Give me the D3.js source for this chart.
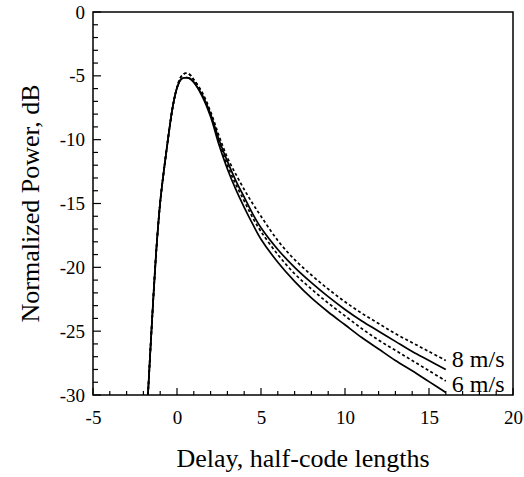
<!DOCTYPE html>
<html>
<head>
<meta charset="utf-8">
<script src="https://cdn.jsdelivr.net/npm/d3@7"></script>
<style>
  body { margin: 0; background: #fff; }
  svg { display: block; }
  text { font-family: "Liberation Serif", "Times New Roman", serif; fill: #000; }
</style>
</head>
<body>
<svg id="chart" width="524" height="477"></svg>
<script>
// ---- data ----
const xTicks = [-5, 0, 5, 10, 15, 20];
const yTicks = [0, -5, -10, -15, -20, -25, -30];
const xTitle = "Delay, half-code lengths";
const yTitle = "Normalized Power, dB";

const delay = [-1.73, -1.5, -1.25, -1.0, -0.75, -0.5, -0.25, 0, 0.25, 0.5, 0.75, 1, 1.5, 2, 2.5, 3, 3.5, 4, 4.5, 5, 6, 7, 8, 9, 10, 11, 12, 13, 14, 15, 16];

// 8 m/s, dotted
const dotted8 = [-30, -24.5, -19.0, -14.9, -12.1, -9.6, -7.4, -5.9, -5.05, -4.8, -4.9, -5.3, -6.3, -7.8, -9.7, -11.4, -12.7, -13.9, -15.0, -16.0, -17.9, -19.4, -20.6, -21.7, -22.7, -23.6, -24.4, -25.2, -25.9, -26.6, -27.3];
// 8 m/s, solid
const solid8 = [-30, -24.5, -19.0, -14.9, -12.1, -9.6, -7.4, -5.95, -5.25, -5.15, -5.2, -5.5, -6.5, -8.0, -10.0, -11.7, -13.2, -14.5, -15.8, -16.9, -18.6, -20.0, -21.2, -22.3, -23.3, -24.2, -25.0, -25.8, -26.6, -27.3, -28.0];
// 6 m/s, dotted
const dotted6 = [-30, -24.5, -19.0, -14.9, -12.1, -9.6, -7.4, -5.9, -5.05, -4.8, -4.9, -5.3, -6.4, -8.0, -10.2, -12.0, -13.5, -14.8, -16.1, -17.2, -19.0, -20.5, -21.7, -22.8, -23.8, -24.8, -25.7, -26.5, -27.3, -28.1, -28.9];
// 6 m/s, solid
const solid6 = [-30, -24.5, -19.0, -14.9, -12.1, -9.6, -7.4, -5.95, -5.25, -5.15, -5.2, -5.5, -6.6, -8.2, -10.4, -12.3, -13.9, -15.3, -16.6, -17.8, -19.6, -21.1, -22.4, -23.5, -24.5, -25.5, -26.4, -27.3, -28.1, -28.95, -29.8];

const seriesNames = ["8 m/s", "6 m/s"];

// ---- layout ----
const svg = d3.select("#chart");
const m = { left: 93, right: 513, top: 12, bottom: 395 };

const x = d3.scaleLinear().domain([-5, 20]).range([m.left, m.right]);
const y = d3.scaleLinear().domain([-30, 0]).range([m.bottom, m.top]);

const fmt = d => String(d); // plain hyphen-minus, as in the reference

// minor ticks
const xMinor = d3.range(-5, 21, 1).filter(v => v % 5 !== 0);
const yMinor = d3.range(-30, 1, 1).filter(v => v % 5 !== 0);

const gx = svg.append("g").attr("transform", `translate(0,${m.bottom})`);
gx.call(d3.axisBottom(x).tickValues(xTicks).tickSize(0).tickPadding(16).tickFormat(fmt));
gx.select(".domain").remove();
gx.selectAll("text").style("font-size", "19px").style("font-family", "Liberation Serif");

const gy = svg.append("g").attr("transform", `translate(${m.left},0)`);
gy.call(d3.axisLeft(y).tickValues(yTicks).tickSize(0).tickPadding(8).tickFormat(fmt));
gy.select(".domain").remove();
gy.selectAll("text").style("font-size", "19px").style("font-family", "Liberation Serif");

// inward ticks
const tickG = svg.append("g").attr("stroke", "#000").attr("stroke-width", 1.2);
tickG.selectAll(".xmaj").data(xTicks).join("line")
  .attr("x1", d => x(d)).attr("x2", d => x(d))
  .attr("y1", m.bottom).attr("y2", m.bottom - 7);
tickG.selectAll(".xmin").data(xMinor).join("line")
  .attr("x1", d => x(d)).attr("x2", d => x(d))
  .attr("y1", m.bottom).attr("y2", m.bottom - 4);
tickG.selectAll(".ymaj").data(yTicks).join("line")
  .attr("y1", d => y(d)).attr("y2", d => y(d))
  .attr("x1", m.left).attr("x2", m.left + 8);
tickG.selectAll(".ymin").data(yMinor).join("line")
  .attr("y1", d => y(d)).attr("y2", d => y(d))
  .attr("x1", m.left).attr("x2", m.left + 5);

// curves
const clipId = "plotclip";
svg.append("clipPath").attr("id", clipId).append("rect")
  .attr("x", m.left).attr("y", m.top).attr("width", m.right - m.left).attr("height", m.bottom - m.top);

const line = d3.line().x(d => x(d[0])).y(d => y(d[1])).curve(d3.curveCatmullRom.alpha(0.5));
const series = [
  { vals: dotted8, dash: "3,2.5" },
  { vals: solid8, dash: null },
  { vals: dotted6, dash: "3,2.5" },
  { vals: solid6, dash: null }
];
const cg = svg.append("g").attr("clip-path", `url(#${clipId})`);
series.forEach(s => {
  cg.append("path")
    .datum(delay.map((d, i) => [d, s.vals[i]]))
    .attr("fill", "none").attr("stroke", "#000").attr("stroke-width", 1.7)
    .attr("stroke-dasharray", s.dash)
    .attr("d", line);
});

// frame
svg.append("rect")
  .attr("x", m.left).attr("y", m.top).attr("width", m.right - m.left).attr("height", m.bottom - m.top)
  .attr("fill", "none").attr("stroke", "#000").attr("stroke-width", 1.5);

// series labels
const lastX = delay[delay.length - 1];
svg.append("text").attr("x", x(lastX) + 6).attr("y", 367)
  .style("font-size", "24px").text(seriesNames[0]);
svg.append("text").attr("x", x(lastX) + 6).attr("y", 392)
  .style("font-size", "24px").text(seriesNames[1]);

// axis titles
svg.append("text").attr("x", (m.left + m.right) / 2).attr("y", 467)
  .attr("text-anchor", "middle").style("font-size", "26px").text(xTitle);
svg.append("text")
  .attr("transform", `translate(39,${(m.top + m.bottom) / 2}) rotate(-90)`)
  .attr("text-anchor", "middle").style("font-size", "26px").text(yTitle);
</script>
</body>
</html>
